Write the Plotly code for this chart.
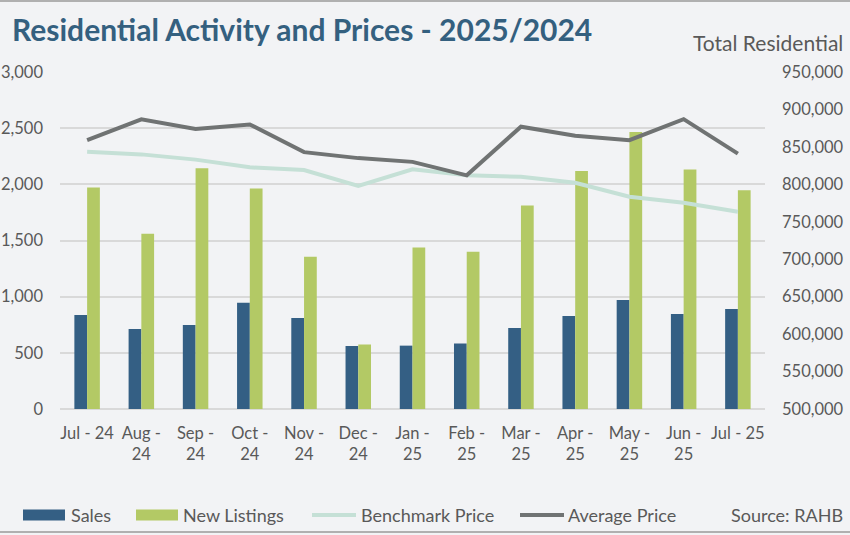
import plotly.graph_objects as go

months = ["Jul - 24", "Aug -<br>24", "Sep -<br>24", "Oct -<br>24", "Nov -<br>24", "Dec -<br>24",
          "Jan -<br>25", "Feb -<br>25", "Mar -<br>25", "Apr -<br>25", "May -<br>25", "Jun -<br>25", "Jul - 25"]
sales = [837, 712, 748, 946, 810, 561, 564, 582, 720, 828, 970, 845, 890]
new_listings = [1971, 1561, 2143, 1962, 1355, 575, 1437, 1400, 1812, 2119, 2466, 2131, 1947]
benchmark_price = [843500, 840000, 833000, 822700, 819000, 798000, 820000, 812000, 810000, 802000, 783500, 775500, 763500]
average_price = [859000, 886800, 873800, 880000, 843000, 835000, 830000, 812000, 877000, 865000, 859000, 887000, 841000]

left_ticks = [0, 500, 1000, 1500, 2000, 2500, 3000]
right_ticks = [500000, 550000, 600000, 650000, 700000, 750000, 800000, 850000, 900000, 950000]

FONT = "Lato"
TXT = "#595959"
C_SALES = "#345f84"
C_LIST = "#b3c965"
C_BENCH = "#c5e0d6"
C_AVG = "#707373"

W, H = 850, 535
L, R, T, B = 60, 85, 72, 126
PW, PH = W - L - R, H - T - B


def px(x):
    return (x - L) / PW


def py(y):
    return (H - B - y) / PH


fig = go.Figure()
fig.add_trace(go.Bar(x=months, y=sales, name="Sales", marker=dict(color=C_SALES, line=dict(width=0))))
fig.add_trace(go.Bar(x=months, y=new_listings, name="New Listings", marker=dict(color=C_LIST, line=dict(width=0))))
fig.add_trace(go.Scatter(x=months, y=benchmark_price, name="Benchmark Price", yaxis="y2", mode="lines",
                         line=dict(color=C_BENCH, width=4)))
fig.add_trace(go.Scatter(x=months, y=average_price, name="Average Price", yaxis="y2", mode="lines",
                         line=dict(color=C_AVG, width=4)))

legend_y = 515
shapes = [
    dict(type="line", xref="paper", yref="paper", x0=px(-10), x1=px(W + 10), y0=py(1), y1=py(1),
         line=dict(color="#b0b0b0", width=2)),
    dict(type="line", xref="paper", yref="paper", x0=px(-10), x1=px(W + 10), y0=py(532), y1=py(532),
         line=dict(color="#b0b0b0", width=2)),
    dict(type="rect", xref="paper", yref="paper", x0=px(23), x1=px(65), y0=py(legend_y - 5.5), y1=py(legend_y + 5.5),
         fillcolor=C_SALES, line=dict(width=0)),
    dict(type="rect", xref="paper", yref="paper", x0=px(136), x1=px(178), y0=py(legend_y - 5.5), y1=py(legend_y + 5.5),
         fillcolor=C_LIST, line=dict(width=0)),
    dict(type="line", xref="paper", yref="paper", x0=px(312), x1=px(356), y0=py(legend_y), y1=py(legend_y),
         line=dict(color=C_BENCH, width=4)),
    dict(type="line", xref="paper", yref="paper", x0=px(520), x1=px(564), y0=py(legend_y), y1=py(legend_y),
         line=dict(color=C_AVG, width=4)),
]

legend_texts = [("Sales", 69), ("New Listings", 181), ("Benchmark Price", 359), ("Average Price", 566)]
annotations = [
    dict(text=t, xref="paper", yref="paper", x=px(x0), y=py(legend_y), xanchor="left", yanchor="middle",
         showarrow=False, font=dict(size=18, color=TXT))
    for t, x0 in legend_texts
]
annotations += [
    dict(text="Source: RAHB", xref="paper", yref="paper", x=px(845), y=py(legend_y), xanchor="right",
         yanchor="middle", showarrow=False, font=dict(size=18, color=TXT)),
    dict(text="Total Residential", xref="paper", yref="paper", x=px(845), y=py(42), xanchor="right",
         yanchor="middle", showarrow=False, font=dict(size=21, color=TXT)),
]

fig.update_layout(
    width=W, height=H,
    paper_bgcolor="#f2f3f5", plot_bgcolor="#f2f3f5",
    margin=dict(l=L, r=R, t=T, b=B),
    barmode="group", bargap=0.53, bargroupgap=0,
    showlegend=False,
    font=dict(family=FONT, color=TXT, size=16),
    title=dict(text="<b>Residential Activity and Prices - 2025/2024</b>", x=12 / W, xanchor="left",
               y=1 - 30 / H, yanchor="middle", font=dict(family=FONT, size=30, color="#34607f")),
    xaxis=dict(tickvals=months, ticktext=months, tickfont=dict(size=16.5, color=TXT), showgrid=False,
               showline=False, ticks="", automargin=False, ticklabelstandoff=12),
    yaxis=dict(range=[0, 3000], tickvals=left_ticks, tickformat=",d", showgrid=True, gridcolor="#d9d9d9",
               gridwidth=1.5, zeroline=True, zerolinecolor="#d9d9d9", zerolinewidth=1.5,
               tickfont=dict(size=16.5, color=TXT), ticks="", automargin=False, ticklabelstandoff=16),
    yaxis2=dict(range=[500000, 950000], tickvals=right_ticks, tickformat=",d", overlaying="y", side="right",
                showgrid=False, zeroline=False, tickfont=dict(size=16.5, color=TXT), ticks="",
                automargin=False, ticklabelstandoff=16),
    shapes=shapes,
    annotations=annotations,
)

fig.write_html("out.html", config={"displayModeBar": False},
               post_script="document.body.style.margin='0';document.body.style.overflow='hidden';")
